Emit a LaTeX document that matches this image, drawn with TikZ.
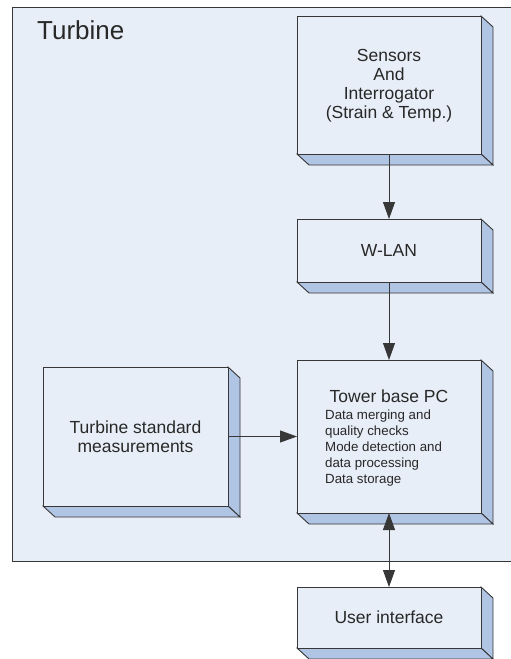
\documentclass[tikz,border=0pt]{standalone}
\usepackage{fontspec}
\setmainfont{Liberation Sans}
\usetikzlibrary{arrows.meta}
\definecolor{facefill}{RGB}{232,238,247}
\definecolor{sidefill}{RGB}{176,196,228}
\definecolor{edge}{RGB}{55,55,55}
\definecolor{txt}{RGB}{40,40,40}
\newcommand\tdbox[5]{%
  \filldraw[sideface] (#4,#3) -- (#4+12,#3+11) -- (#4+12,#5+11) -- (#4,#5) -- cycle;
  \filldraw[sideface] (#2,#5) -- (#2+12,#5+11) -- (#4+12,#5+11) -- (#4,#5) -- cycle;
  \node[frontbox, minimum width={(#4-#2)*1pt}, minimum height={(#5-#3)*1pt}] (#1) at ({(#2+#4)/2},{(#3+#5)/2}) {};
}
\tikzset{
  sideface/.style={fill=sidefill, draw=edge, line width=0.9pt, line join=miter},
  frontbox/.style={draw=edge, fill=facefill, line width=0.9pt, inner sep=0pt, outer sep=0pt, rectangle},
  boxtext/.style={align=center, text=txt, font=\fontsize{17.5}{19}\selectfont, inner sep=0pt},
  subtext/.style={anchor=base west, text=txt, font=\fontsize{13.3}{16}\selectfont, inner sep=0pt},
  tip/.tip={Triangle[length=17pt,width=12pt]},
  conn/.style={draw=edge, line width=0.9pt, -tip},
  conn2/.style={draw=edge, line width=0.9pt, tip-tip}
}
\begin{document}
\begin{tikzpicture}[x=1pt,y=-1pt]
\useasboundingbox (0,0) rectangle (511,659);
\clip (0,0) rectangle (511,659);
\fill[white] (0,0) rectangle (511,659);
\filldraw[fill=facefill, draw=edge, line width=1pt] (12,7) rectangle (530,561);
\node[anchor=base west, font=\fontsize{26}{30}\selectfont, text=txt, inner sep=0pt] (turbinelabel) at (37,39) {Turbine};
\tdbox{sensors}{297}{16}{481}{154}
\node[boxtext] (sensorstext) at (389,86) {Sensors\\And\\Interrogator\\(Strain \& Temp.)};
\tdbox{wlan}{297}{219}{481}{282}
\node[boxtext] (wlantext) at (wlan) {W-LAN};
\tdbox{tower}{297}{360}{481}{513}
\node[boxtext, anchor=base] (towertitle) at (389,402) {Tower base PC};
\node[subtext] (tl1) at (325,419) {Data merging and};
\node[subtext] (tl2) at (325,435) {quality checks};
\node[subtext] (tl3) at (325,451) {Mode detection and};
\node[subtext] (tl4) at (325,467) {data processing};
\node[subtext] (tl5) at (325,483) {Data storage};
\tdbox{tsm}{43}{367}{228}{506}
\node[boxtext] (tsmtext) at (tsm) {Turbine standard\\measurements};
\tdbox{ui}{297}{587}{481}{648}
\node[boxtext] (uitext) at (ui) {User interface};
\draw[conn] (sensors.south) -- (wlan.north);
\draw[conn] (wlan.south) -- (tower.north);
\draw[conn] (tsm.east) -- (tower.west);
\draw[conn2] (tower.south) -- (ui.north);
\end{tikzpicture}
\end{document}
